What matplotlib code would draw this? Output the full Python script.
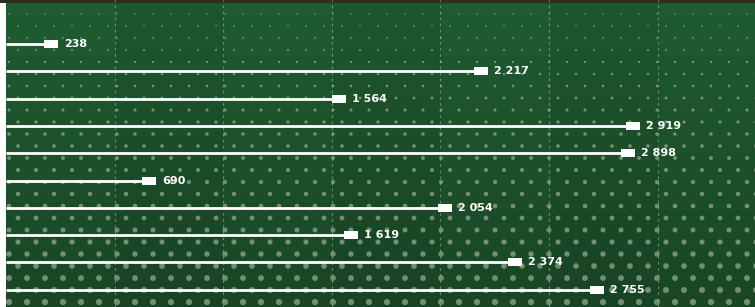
import numpy as np
import matplotlib.pyplot as plt
from matplotlib.patches import Rectangle

# values, top to bottom
values = [238, 2217, 1564, 2919, 2898, 690, 2054, 1619, 2374, 2755]
grid_ticks = [500, 1000, 1500, 2000, 2500, 3000]

W, H = 755, 307
fig = plt.figure(figsize=(W / 100, H / 100), dpi=100)

#%%-------------------------------------------------
#  background: green with halftone dots
bg = fig.add_axes([0, 0, 1, 1])
bg.set_xlim(0, W)
bg.set_ylim(H, 0)
bg.axis('off')

yy, xx = np.mgrid[0:H, 0:W]
top = np.array([31, 92, 49]) / 255
bot = np.array([26, 70, 38]) / 255
t = (yy / H)[..., None]
img = top * (1 - t) + bot * t
# slight tint differences between grid columns
band = ((xx - 6) // 109) % 2
img = img * (1 - 0.05 * band[..., None])
img[:, :6] = 1.0                      # white margin on the left
img[:3, :] = np.array([50, 44, 30]) / 255
bg.imshow(img, extent=[0, W, H, 0], aspect='auto', zorder=0)

dx, dy = 18, 12
dots_x, dots_y = [], []
for r, yv in enumerate(np.arange(14, H + dy, dy)):
    off = (dx / 2) * (r % 2)
    for xv in np.arange(9 + off, W + dx, dx):
        dots_x.append(xv)
        dots_y.append(yv)
dots_x = np.array(dots_x)
dots_y = np.array(dots_y)
diam = 1.3 + 5.0 * (dots_y / H)          # pixels
bg.scatter(dots_x, dots_y, s=(diam * 0.72) ** 2, color='#a3b59b', alpha=0.65,
           edgecolor='none', zorder=1)

#%%-------------------------------------------------
#  main chart
ax = fig.add_axes([0, 0, 1, 1])
ax.patch.set_alpha(0)
px = 0.2172                     # pixels per unit
ax.set_xlim(-6 / px, (W - 6) / px)
ax.set_ylim((H - 44) / 27.3, -44 / 27.3)
ax.axis('off')

for g in grid_ticks:
    ax.axvline(g, color='#a5c09f', lw=0.8, ls=(0, (2.5, 3)), alpha=0.55, zorder=1)

mw = 14 / px      # marker width in data units
mh = 8 / 27.3     # marker height
for i, v in enumerate(values):
    ax.plot([0, v - mw], [i, i], color='white', lw=2.0, solid_capstyle='butt', zorder=2)
    ax.add_patch(Rectangle((v - mw, i - mh / 2), mw, mh, color='white', lw=0, zorder=3))
    ax.text(v + 6 / px, i, f"{v:,}".replace(',', ' '), color='white',
            fontsize=8, fontweight='bold', ha='left', va='center', zorder=4)

fig.savefig('out.png', dpi=100)
